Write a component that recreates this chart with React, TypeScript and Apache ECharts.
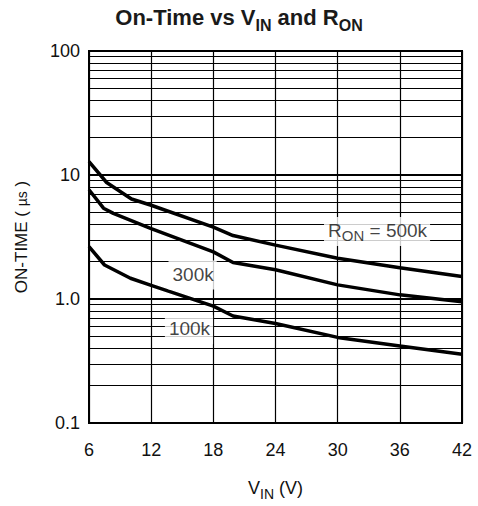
import React, { useEffect, useRef } from "react";
import * as echarts from "echarts";

const xTicks = [6, 12, 18, 24, 30, 36, 42];
const yMajor = [0.1, 1, 10, 100];
const yMinor = [0.2, 0.3, 0.4, 0.5, 0.6, 0.7, 0.8, 0.9, 2, 3, 4, 5, 6, 7, 8, 9, 20, 30, 40, 50, 60, 70, 80, 90];

const vin500 = [6, 7.7, 10.1, 12, 18, 19.9, 24, 30, 36, 42];
const on500 = [12.8, 8.7, 6.4, 5.7, 3.8, 3.25, 2.72, 2.13, 1.79, 1.52];
const vin300 = [6, 7.4, 8.35, 12, 18, 19.9, 24, 30, 36, 42];
const on300 = [7.6, 5.4, 4.9, 3.7, 2.4, 1.97, 1.72, 1.3, 1.08, 0.95];
const vin100 = [6, 7.5, 10, 12, 18, 19.9, 24, 30, 36, 42];
const on100 = [2.64, 1.88, 1.47, 1.29, 0.875, 0.73, 0.634, 0.49, 0.418, 0.358];

const labelTexts = ["{n|R}{s|ON}{n| = 500k}", "{n|300k}", "{n|100k}"];
const labelX = [33.8, 16.0, 15.65];
const labelY = [3.5, 1.56, 0.565];

const FONT = "'Liberation Sans', Arial, Helvetica, sans-serif";

export default function App() {
  const ref = useRef<HTMLDivElement>(null);
  useEffect(() => {
    document.body.style.margin = "0";
    const chart = echarts.init(ref.current!, null, { renderer: "svg" });
    const pair = (xs: number[], ys: number[]) => xs.map((x, i) => [x, ys[i]]);
    const curve = (name: string, xs: number[], ys: number[], extra: any = {}) => ({
      name,
      type: "line",
      data: pair(xs, ys),
      showSymbol: false,
      symbol: "none",
      lineStyle: { color: "#000", width: 3.5 },
      z: 4,
      ...extra,
    });
    const fmtY = (v: number) => {
      if (Math.abs(v - 0.1) < 1e-6) return "0.1";
      if (Math.abs(v - 1) < 1e-6) return "1.0";
      if (Math.abs(v - 10) < 1e-6) return "10";
      if (Math.abs(v - 100) < 1e-6) return "100";
      return "";
    };
    chart.setOption({
      animation: false,
      backgroundColor: "#fff",
      title: {
        left: "center",
        top: 1,
        text: "{b|On-Time vs V}{s|IN}{b| and R}{s|ON}",
        textStyle: {
          fontFamily: FONT,
          rich: {
            b: { fontSize: 22, fontWeight: "bold", color: "#1a1a1a", fontFamily: FONT, lineHeight: 27, verticalAlign: "top" },
            s: { fontSize: 16, fontWeight: "bold", color: "#1a1a1a", fontFamily: FONT, lineHeight: 16, padding: [13, 0, 0, 0], verticalAlign: "bottom" },
          },
        },
      },
      grid: { left: 89, right: 16, top: 51, bottom: 80, show: true, borderColor: "#000", borderWidth: 2, backgroundColor: "transparent" },
      xAxis: {
        type: "value",
        min: 6,
        max: 42,
        interval: 6,
        axisLine: { show: true, lineStyle: { color: "#000", width: 2 } },
        axisTick: { show: false },
        splitLine: { show: true, lineStyle: { color: "#000", width: 1.2 } },
        axisLabel: { color: "#111", fontSize: 18, fontFamily: FONT, margin: 18, formatter: (v: number) => (xTicks.includes(v) ? String(v) : "") },
        name: "{n|V}{s|IN}{n| (V)}",
        nameLocation: "middle",
        nameGap: 56,
        nameTextStyle: {
          rich: {
            n: { fontSize: 18, color: "#111", fontFamily: FONT, lineHeight: 22, verticalAlign: "top" },
            s: { fontSize: 14, color: "#111", fontFamily: FONT, lineHeight: 14, padding: [9, 0, 0, 0], verticalAlign: "bottom" },
          },
        },
      },
      yAxis: {
        type: "log",
        logBase: 10,
        min: yMajor[0],
        max: yMajor[yMajor.length - 1],
        axisLine: { show: true, lineStyle: { color: "#000", width: 2 } },
        axisTick: { show: false },
        minorTick: { show: false },
        splitLine: { show: true, lineStyle: { color: "#000", width: 2 } },
        axisLabel: { color: "#111", fontSize: 18, fontFamily: FONT, margin: 9, formatter: fmtY },
        name: "{n|ON-TIME ( }{m|µs}{n| )}",
        nameLocation: "middle",
        nameGap: 59,
        nameRotate: 90,
        nameTextStyle: {
          rich: {
            n: { fontSize: 17, color: "#111", fontFamily: FONT },
            m: { fontSize: 14, color: "#111", fontFamily: FONT },
          },
        },
      },
      series: [
        curve("500k", vin500, on500, {
          markLine: {
            silent: true,
            symbol: "none",
            label: { show: false },
            lineStyle: { color: "#000", width: 1.2, type: "solid" },
            data: yMinor.map((v) => ({ yAxis: v })),
            z: 1,
          },
        }),
        curve("300k", vin300, on300),
        curve("100k", vin100, on100),
        {
          type: "scatter",
          symbolSize: 0,
          z: 6,
          data: labelX.map((x, i) => ({ value: [x, labelY[i]], name: labelTexts[i] })),
          label: {
            show: true,
            position: "inside",
            formatter: (p: any) => p.name,
            backgroundColor: "#fff",
            padding: [4, 3, 3, 4],
            rich: {
              n: { fontSize: 19, color: "#111", fontFamily: FONT, lineHeight: 22, verticalAlign: "top" },
              s: { fontSize: 15, color: "#111", fontFamily: FONT, lineHeight: 15, padding: [8, 0, 0, 0], verticalAlign: "bottom" },
            },
          },
        },
      ],
    });
    return () => chart.dispose();
  }, []);
  return <div ref={ref} style={{ width: 478, height: 506 }} />;
}
